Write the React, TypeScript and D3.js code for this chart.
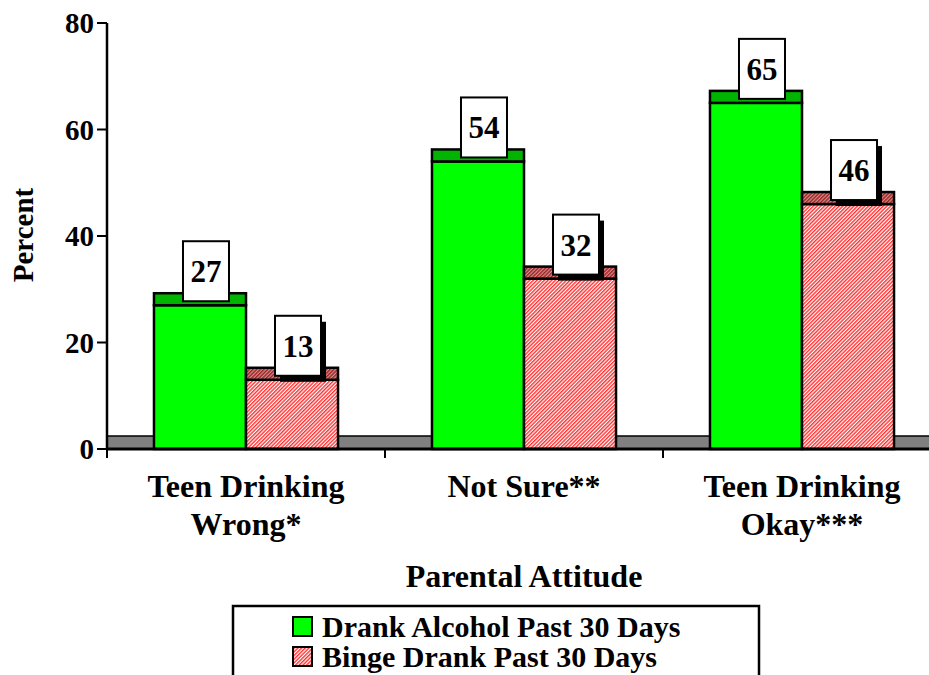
import * as d3 from "d3";

const categories = ["Teen Drinking Wrong*", "Not Sure**", "Teen Drinking Okay***"];
const categoryLines = [["Teen Drinking", "Wrong*"], ["Not Sure**"], ["Teen Drinking", "Okay***"]];
const seriesNames = ["Drank Alcohol Past 30 Days", "Binge Drank Past 30 Days"];
const alcohol = [27, 54, 65];
const binge = [13, 32, 46];
const yTicks = [0, 20, 40, 60, 80];

const W = 929;
const H = 675;
const FONT = "Liberation Serif, Times New Roman, Times, serif";

const App = () => {
  const y = d3.scaleLinear().domain([0, 80]).range([449, 23]);
  const x = d3.scaleBand().domain(categories).range([107, 941]).paddingInner(0.338).paddingOuter(0.169);
  const sub = d3.scaleBand().domain(seriesNames).range([0, x.bandwidth()]);
  const depth = 12;
  const series = [alcohol, binge];
  const fills = ["#00ff00", "url(#hatch)"];
  const capFills = ["#00b400", "url(#hatchDark)"];
  const boundaries = [0, 1, 2, 3].map(i => 107 + i * x.step());

  return (
    <svg width={W} height={H} style={{ position: "absolute", left: 0, top: 0, background: "#fff", fontFamily: FONT, fontWeight: "bold" }}>
      <defs>
        <pattern id="hatch" width="2.6" height="2.6" patternUnits="userSpaceOnUse" patternTransform="rotate(45)">
          <rect width="2.6" height="2.6" fill="#ffffff" />
          <rect width="1.4" height="2.6" fill="#ff3030" />
        </pattern>
        <pattern id="hatchDark" width="2.6" height="2.6" patternUnits="userSpaceOnUse" patternTransform="rotate(45)">
          <rect width="2.6" height="2.6" fill="#d09090" />
          <rect width="1.4" height="2.6" fill="#a02020" />
        </pattern>
      </defs>

      {/* floor */}
      <rect x={107} y={y(0) - 13} width={W - 107 + 5} height={13} fill="#808080" stroke="#000" strokeWidth={1.5} />

      {/* bars */}
      {categories.map((c, i) => (
        <g key={c}>
          {seriesNames.map((s, j) => {
            const v = series[j][i];
            const bx = (x(c) ?? 0) + (sub(s) ?? 0);
            const bw = sub.bandwidth();
            return (
              <g key={s}>
                <rect x={bx} y={y(v)} width={bw} height={y(0) - y(v)} fill={fills[j]} stroke="#000" strokeWidth={2.5} />
                <rect x={bx} y={y(v) - depth} width={bw} height={depth} fill={capFills[j]} stroke="#000" strokeWidth={2.5} />
              </g>
            );
          })}
        </g>
      ))}

      {/* value labels */}
      {categories.map((c, i) => (
        <g key={c}>
          {seriesNames.map((s, j) => {
            const v = series[j][i];
            const cx = (x(c) ?? 0) + (sub(s) ?? 0) + sub.bandwidth() / 2 + 6;
            const bottom = y(v) - 4;
            return (
              <g key={s}>
                {j === 1 && <rect x={cx - 23 + 5} y={bottom - 60 + 6} width={46} height={60} fill="#000" />}
                <rect x={cx - 23} y={bottom - 60} width={46} height={60} fill="#fff" stroke="#000" strokeWidth={2} />
                <text x={cx} y={bottom - 19} textAnchor="middle" fontSize={31}>{v}</text>
              </g>
            );
          })}
        </g>
      ))}

      {/* x axis */}
      <line x1={107} x2={W} y1={y(0)} y2={y(0)} stroke="#000" strokeWidth={3} />
      {boundaries.map(b => (
        <line key={b} x1={b} x2={b} y1={y(0)} y2={y(0) + 9} stroke="#000" strokeWidth={2} />
      ))}
      {categories.map((c, i) => (
        <text key={c} textAnchor="middle" fontSize={32}>
          {categoryLines[i].map((l, k) => (
            <tspan key={l} x={(x(c) ?? 0) + x.bandwidth() / 2} y={497 + k * 38}>{l}</tspan>
          ))}
        </text>
      ))}
      <text x={524} y={587} textAnchor="middle" fontSize={32}>Parental Attitude</text>

      {/* y axis */}
      <line x1={107} x2={107} y1={y(80)} y2={y(0)} stroke="#000" strokeWidth={2.5} />
      {yTicks.map(t => (
        <g key={t}>
          <line x1={97} x2={107} y1={y(t)} y2={y(t)} stroke="#000" strokeWidth={2} />
          <text x={94} y={y(t) + 10} textAnchor="end" fontSize={29}>{t}</text>
        </g>
      ))}
      <text transform="translate(33, 235) rotate(-90)" textAnchor="middle" fontSize={29}>Percent</text>

      {/* legend */}
      <rect x={233} y={606} width={526} height={90} fill="#fff" stroke="#000" strokeWidth={2.5} />
      {seriesNames.map((s, j) => (
        <g key={s}>
          <rect x={293} y={617 + j * 30} width={19} height={19} fill={fills[j]} stroke="#000" strokeWidth={2} />
          <text x={322} y={637 + j * 30} fontSize={30}>{s}</text>
        </g>
      ))}
    </svg>
  );
};

export default App;
